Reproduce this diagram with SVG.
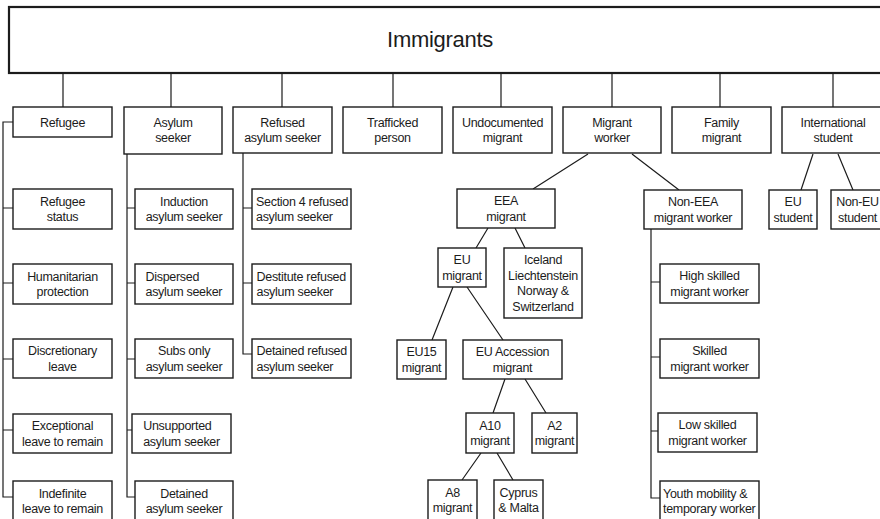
<svg xmlns="http://www.w3.org/2000/svg" width="880" height="519" viewBox="0 0 880 519">
<style>
.box{fill:#fff;stroke:#1c1c1c;stroke-width:1.4}
.top{fill:#fff;stroke:#1c1c1c;stroke-width:2.2}
.t{font-family:"Liberation Sans",Arial,Helvetica,sans-serif;font-size:12.5px;letter-spacing:-0.3px;fill:#1c1c1c;text-anchor:middle}
.l{text-anchor:start}
.big{font-size:22px}
.c{stroke:#1c1c1c;stroke-width:1.2;fill:none}
</style>
<rect width="880" height="519" fill="#fff"/>
<g id="connectors">
<path class="c" d="M63,74V107M171,74V107M282,74V107M393,74V107M501,74V107M612,74V107M720,74V107M833,74V107"/>
<path class="c" d="M13,122H3V497H13M3,208H13M3,283H13M3,359H13M3,430H13"/>
<path class="c" d="M127,154V497H135M127,208H135M127,283H135M127,359H135M127,430H132"/>
<path class="c" d="M243,153V354H252M243,208H252M243,283H252"/>
<path class="c" d="M651,229V498H660M651,282H660M651,357H660M651,431H658"/>
<path class="c" d="M588,154L533,189M632,154L679,190"/>
<path class="c" d="M488,228L476,248M515,228L525,248"/>
<path class="c" d="M453,287L432,340M467,287L503,340"/>
<path class="c" d="M505,379L493,413M525,379L546,413"/>
<path class="c" d="M481,453L462,480M497,453L513,480"/>
<path class="c" d="M813,154L801,190M838,154L853,190"/>
</g>
<g id="immigrants"><rect class="top" x="9" y="7" width="885" height="66"/><text class="t big" x="440" y="47">Immigrants</text></g>

<g id="refugee"><rect class="box" x="13" y="107" width="99" height="30"/><text class="t" x="62.5" y="126.5">Refugee</text></g>
<g id="asylum-seeker"><rect class="box" x="124" y="107" width="98" height="47"/><text class="t" x="173" y="126.7">Asylum</text><text class="t" x="173" y="142.3">seeker</text></g>
<g id="refused-asylum-seeker"><rect class="box" x="233" y="107" width="99" height="46"/><text class="t" x="282.5" y="126.7">Refused</text><text class="t" x="282.5" y="142.3">asylum seeker</text></g>
<g id="trafficked-person"><rect class="box" x="343" y="107" width="99" height="46"/><text class="t" x="392.5" y="126.7">Trafficked</text><text class="t" x="392.5" y="142.3">person</text></g>
<g id="undocumented-migrant"><rect class="box" x="453" y="107" width="99" height="46"/><text class="t" x="502.5" y="126.7">Undocumented</text><text class="t" x="502.5" y="142.3">migrant</text></g>
<g id="migrant-worker"><rect class="box" x="563" y="107" width="98" height="46"/><text class="t" x="612" y="126.7">Migrant</text><text class="t" x="612" y="142.3">worker</text></g>
<g id="family-migrant"><rect class="box" x="672" y="107" width="99" height="46"/><text class="t" x="721.5" y="126.7">Family</text><text class="t" x="721.5" y="142.3">migrant</text></g>
<g id="international-student"><rect class="box" x="782" y="107" width="102" height="46"/><text class="t" x="833" y="126.7">International</text><text class="t" x="833" y="142.3">student</text></g>

<g id="refugee-status"><rect class="box" x="13" y="189" width="99" height="40"/><text class="t" x="62.5" y="205.7">Refugee</text><text class="t" x="62.5" y="221.3">status</text></g>
<g id="humanitarian-protection"><rect class="box" x="13" y="264" width="99" height="40"/><text class="t" x="62.5" y="280.7">Humanitarian</text><text class="t" x="62.5" y="296.3">protection</text></g>
<g id="discretionary-leave"><rect class="box" x="13" y="339" width="99" height="39"/><text class="t" x="62.5" y="355.2">Discretionary</text><text class="t" x="62.5" y="370.8">leave</text></g>
<g id="exceptional-leave"><rect class="box" x="13" y="414" width="99" height="39"/><text class="t" x="62.5" y="430.2">Exceptional</text><text class="t" x="62.5" y="445.8">leave to remain</text></g>
<g id="indefinite-leave"><rect class="box" x="13" y="481" width="99" height="40"/><text class="t" x="62.5" y="497.7">Indefinite</text><text class="t" x="62.5" y="513.3">leave to remain</text></g>

<g id="induction-asylum-seeker"><rect class="box" x="135" y="189" width="98" height="40"/><text class="t" x="184" y="205.7">Induction</text><text class="t" x="184" y="221.3">asylum seeker</text></g>
<g id="dispersed-asylum-seeker"><rect class="box" x="135" y="264" width="98" height="40"/><text class="t l" x="145.5" y="280.7">Dispersed</text><text class="t l" x="145.5" y="296.3">asylum seeker</text></g>
<g id="subs-only-asylum-seeker"><rect class="box" x="135" y="339" width="98" height="39"/><text class="t" x="184" y="355.2">Subs only</text><text class="t" x="184" y="370.8">asylum seeker</text></g>
<g id="unsupported-asylum-seeker"><rect class="box" x="132" y="414" width="99" height="39"/><text class="t l" x="143.2" y="430.2">Unsupported</text><text class="t l" x="143.2" y="445.8">asylum seeker</text></g>
<g id="detained-asylum-seeker"><rect class="box" x="135" y="481" width="98" height="40"/><text class="t" x="184" y="497.7">Detained</text><text class="t" x="184" y="513.3">asylum seeker</text></g>

<g id="section4-refused"><rect class="box" x="252" y="189" width="99" height="40"/><text class="t l" x="256" y="205.7">Section 4 refused</text><text class="t l" x="256" y="221.3">asylum seeker</text></g>
<g id="destitute-refused"><rect class="box" x="252" y="264" width="99" height="40"/><text class="t l" x="256.5" y="280.7">Destitute refused</text><text class="t l" x="256.5" y="296.3">asylum seeker</text></g>
<g id="detained-refused"><rect class="box" x="252" y="339" width="99" height="39"/><text class="t l" x="256.5" y="355.2">Detained refused</text><text class="t l" x="256.5" y="370.8">asylum seeker</text></g>

<g id="eea-migrant"><rect class="box" x="457" y="189" width="98" height="39"/><text class="t" x="506" y="205.2">EEA</text><text class="t" x="506" y="220.8">migrant</text></g>
<g id="non-eea-migrant-worker"><rect class="box" x="644" y="190" width="98" height="39"/><text class="t" x="693" y="206.2">Non-EEA</text><text class="t" x="693" y="221.8">migrant worker</text></g>
<g id="eu-migrant"><rect class="box" x="438" y="248" width="48" height="39"/><text class="t" x="462" y="264.2">EU</text><text class="t" x="462" y="279.8">migrant</text></g>
<g id="iceland"><rect class="box" x="504" y="248" width="78" height="70"/><text class="t" x="543" y="264">Iceland</text><text class="t" x="543" y="279.6">Liechtenstein</text><text class="t" x="543" y="295.2">Norway &amp;</text><text class="t" x="543" y="310.8">Switzerland</text></g>
<g id="eu15-migrant"><rect class="box" x="397" y="340" width="49" height="39"/><text class="t" x="421.5" y="356.2">EU15</text><text class="t" x="421.5" y="371.8">migrant</text></g>
<g id="eu-accession-migrant"><rect class="box" x="463" y="340" width="99" height="39"/><text class="t" x="512.5" y="356.2">EU Accession</text><text class="t" x="512.5" y="371.8">migrant</text></g>
<g id="a10-migrant"><rect class="box" x="466" y="413" width="48" height="40"/><text class="t" x="490" y="429.7">A10</text><text class="t" x="490" y="445.3">migrant</text></g>
<g id="a2-migrant"><rect class="box" x="532" y="413" width="45" height="40"/><text class="t" x="554.5" y="429.7">A2</text><text class="t" x="554.5" y="445.3">migrant</text></g>
<g id="a8-migrant"><rect class="box" x="428" y="480" width="49" height="40"/><text class="t" x="452.5" y="496.7">A8</text><text class="t" x="452.5" y="512.3">migrant</text></g>
<g id="cyprus-malta"><rect class="box" x="494" y="480" width="49" height="40"/><text class="t" x="518.5" y="496.7">Cyprus</text><text class="t" x="518.5" y="512.3">&amp; Malta</text></g>

<g id="high-skilled"><rect class="box" x="660" y="264" width="99" height="39"/><text class="t" x="709.5" y="280.2">High skilled</text><text class="t" x="709.5" y="295.8">migrant worker</text></g>
<g id="skilled"><rect class="box" x="660" y="339" width="99" height="39"/><text class="t" x="709.5" y="355.2">Skilled</text><text class="t" x="709.5" y="370.8">migrant worker</text></g>
<g id="low-skilled"><rect class="box" x="658" y="413" width="99" height="39"/><text class="t" x="707.5" y="429.2">Low skilled</text><text class="t" x="707.5" y="444.8">migrant worker</text></g>
<g id="youth-mobility"><rect class="box" x="660" y="481" width="99" height="40"/><text class="t l" x="663" y="497.7">Youth mobility &amp;</text><text class="t l" x="663" y="513.3">temporary worker</text></g>

<g id="eu-student"><rect class="box" x="769" y="190" width="48" height="39"/><text class="t" x="793" y="206.2">EU</text><text class="t" x="793" y="221.8">student</text></g>
<g id="non-eu-student"><rect class="box" x="831" y="190" width="53" height="39"/><text class="t" x="857.5" y="206.2">Non-EU</text><text class="t" x="857.5" y="221.8">student</text></g>
</svg>
